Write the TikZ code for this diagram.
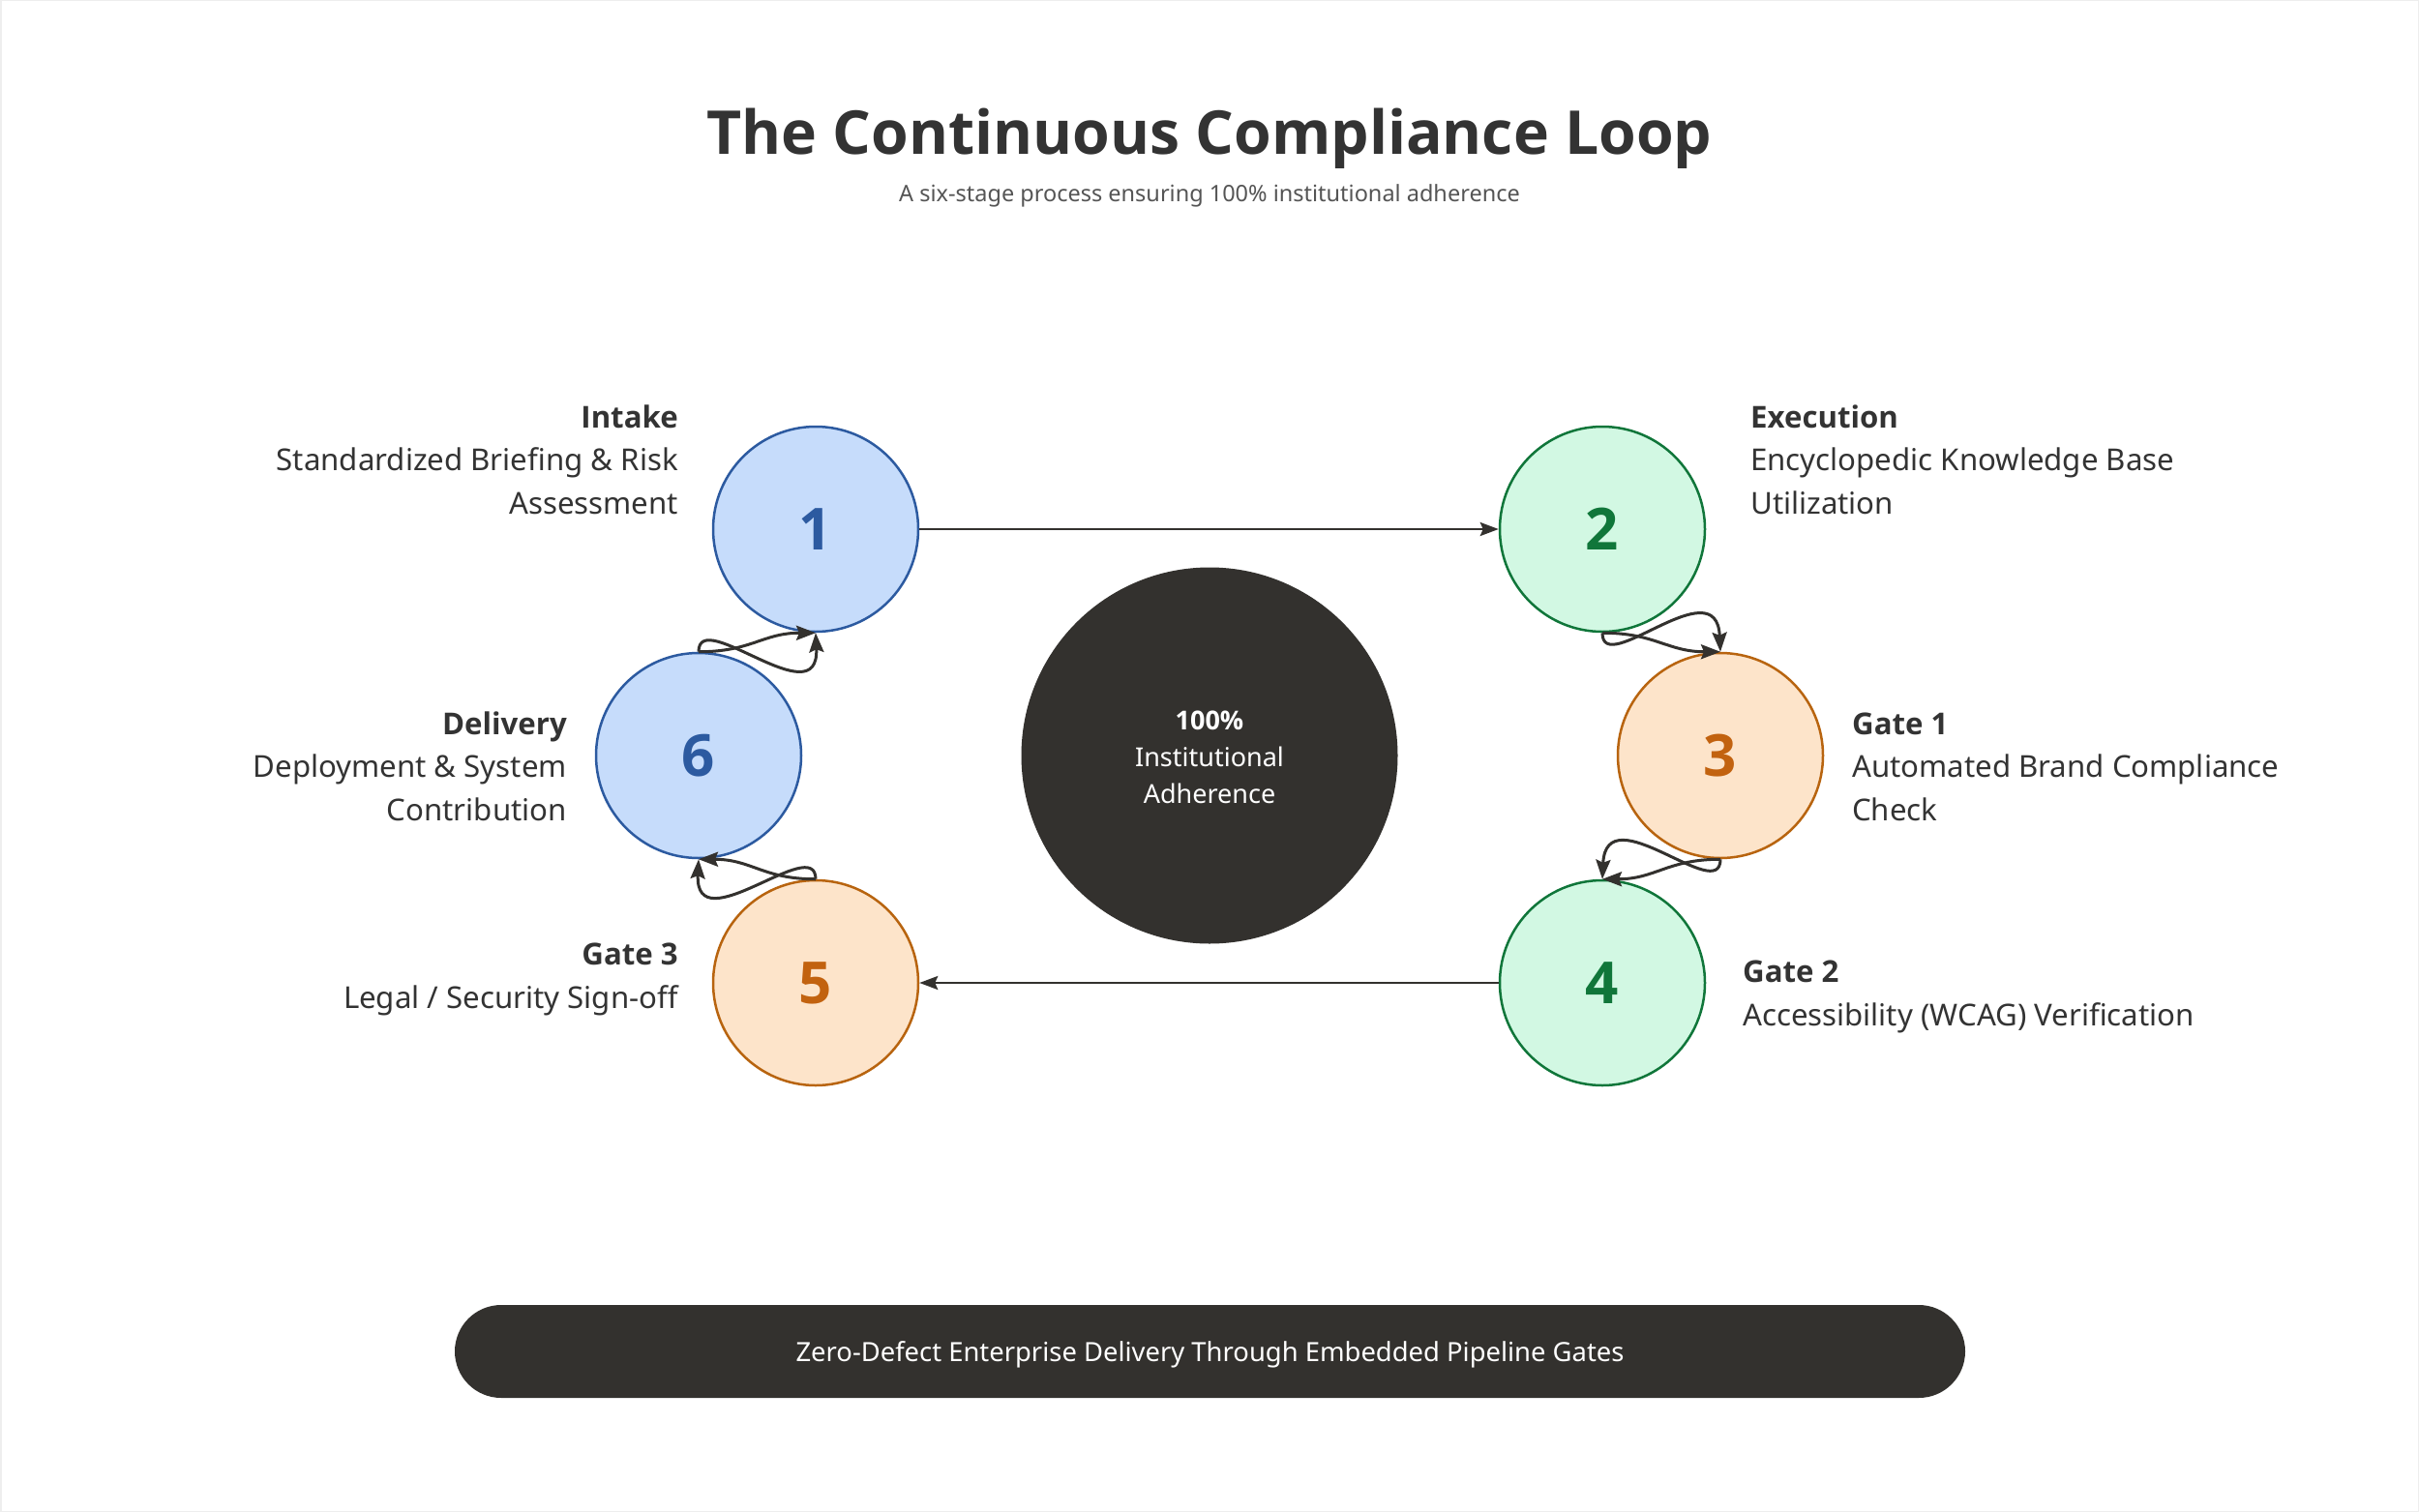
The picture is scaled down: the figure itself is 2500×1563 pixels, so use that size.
\documentclass[tikz,border=0pt]{standalone}
\usepackage{fontspec}
\setmainfont{Noto Sans}[BoldFont={Open Sans Bold}]
\usetikzlibrary{arrows.meta}
\definecolor{dark}{HTML}{33312E}
\definecolor{txt}{HTML}{333333}
\definecolor{subtxt}{HTML}{555555}
\definecolor{frame}{HTML}{EEEEEE}
\definecolor{bluefill}{HTML}{C6DCFB}
\definecolor{blueline}{HTML}{2C5AA0}
\definecolor{greenfill}{HTML}{D2F8E3}
\definecolor{greenline}{HTML}{10763A}
\definecolor{orangefill}{HTML}{FDE4CA}
\definecolor{orangeline}{HTML}{B8640F}
\definecolor{orangenum}{HTML}{C2620F}
\begin{document}
\begin{tikzpicture}[x=1pt,y=-1pt,
  stage/.style={circle,minimum size=212pt,inner sep=0pt,line width=2.5pt,
    font=\fontsize{60}{72}\selectfont\bfseries},
  bluest/.style={stage,fill=bluefill,draw=blueline,text=blueline},
  greenst/.style={stage,fill=greenfill,draw=greenline,text=greenline},
  orangest/.style={stage,fill=orangefill,draw=orangeline,text=orangenum},
  lbl/.style={inner sep=0pt,text=txt,font=\fontsize{31.2}{44.5}\selectfont},
  conn/.style={-{Stealth[length=20pt,width=15pt,inset=3pt]},line width=3pt,draw=dark},
  straight/.style={-{Stealth[length=19pt,width=14pt,inset=3pt]},line width=2.5pt,draw=dark}]
\useasboundingbox[fill=white] (0,0) rectangle (2500,1563);
\draw[frame,line width=3pt] (0,0) rectangle (2500,1563);

% title
\node[anchor=base,inner sep=0pt,text=txt,font=\fontsize{62.5}{70}\selectfont\bfseries] (title) at (1250,159) {The Continuous Compliance Loop};
\node[anchor=base,inner sep=0pt,text=subtxt,font=\fontsize{23.5}{28}\selectfont] (subtitle) at (1250,208.5) {A six-stage process ensuring 100\% institutional adherence};

% stages
\node[bluest] (n1) at (843,547) {1};
\node[greenst] (n2) at (1656,547) {2};
\node[orangest] (n3) at (1778,781) {3};
\node[greenst] (n4) at (1656,1016) {4};
\node[orangest] (n5) at (843,1016) {5};
\node[bluest] (n6) at (722,781) {6};

% centre
\node[circle,fill=dark,minimum size=389pt,inner sep=0pt] (hub) at (1250,781) {};
\node[anchor=base,inner sep=0pt,text=white,align=center,font=\fontsize{27}{38}\selectfont] (hubtxt) at (1250,830) {{\bfseries 100\%}\\Institutional\\Adherence};

% labels (base anchor = last line baseline)
\node[lbl,anchor=base east,align=right] (l1) at (701,531) {{\bfseries Intake}\\Standardized Briefing \& Risk\\Assessment};
\node[lbl,anchor=base west,align=left] (l2) at (1809,531) {{\bfseries Execution}\\Encyclopedic Knowledge Base\\Utilization};
\node[lbl,anchor=base west,align=left] (l3) at (1914,848) {{\bfseries Gate 1}\\Automated Brand Compliance\\Check};
\node[lbl,anchor=base west,align=left] (l4) at (1801,1060) {{\bfseries Gate 2}\\Accessibility (WCAG) Verification};
\node[lbl,anchor=base east,align=right] (l5) at (701,1042) {{\bfseries Gate 3}\\Legal / Security Sign-off};
\node[lbl,anchor=base east,align=right] (l6) at (586,848) {{\bfseries Delivery}\\Deployment \& System\\Contribution};

% straight connectors
\draw[straight] (n1.east) -- (n2.west);
\draw[straight] (n4.west) -- (n5.east);

% twisted connectors
\draw[conn] (n6.north) .. controls +(0,-48) and +(4,88) .. (n1.south);
\draw[conn] (n6.north) .. controls +(55,0) and +(-55,0) .. (n1.south);
\draw[conn] (n2.south) .. controls +(0,48) and +(-4,-88) .. (n3.north);
\draw[conn] (n2.south) .. controls +(55,0) and +(-55,0) .. (n3.north);
\draw[conn] (n3.south) .. controls +(0,48) and +(4,-88) .. (n4.north);
\draw[conn] (n3.south) .. controls +(-55,0) and +(55,0) .. (n4.north);
\draw[conn] (n5.north) .. controls +(0,-48) and +(-4,88) .. (n6.south);
\draw[conn] (n5.north) .. controls +(-55,0) and +(55,0) .. (n6.south);

% banner
\node[fill=dark,rounded corners=48pt,minimum width=1561pt,minimum height=96pt,inner sep=0pt,text depth=0pt,text=white,font=\fontsize{27.4}{33}\selectfont] (banner) at (1250.5,1397) {Zero-Defect Enterprise Delivery Through Embedded Pipeline Gates};
\end{tikzpicture}
\end{document}
